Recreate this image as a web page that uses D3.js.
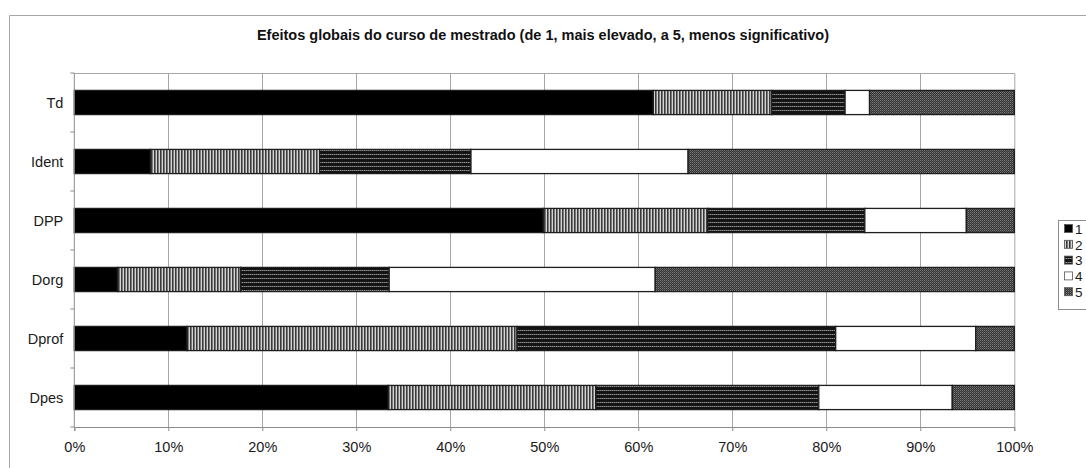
<!DOCTYPE html>
<html>
<head>
<meta charset="utf-8">
<script src="https://cdn.jsdelivr.net/npm/d3@7"></script>
<style>
  html, body { margin: 0; padding: 0; background: #fff; }
  svg { display: block; font-family: "Liberation Sans", Arial, sans-serif; }
</style>
</head>
<body>
<svg id="chart" width="1086" height="468"></svg>
<script>
// Categories (top to bottom) and the share of each rank, in percent
const categories = ["Td", "Ident", "DPP", "Dorg", "Dprof", "Dpes"];
const seriesNames = ["1", "2", "3", "4", "5"];
const rank1 = [61.6, 8.1, 49.9, 4.6, 12.0, 33.4];
const rank2 = [12.6, 18.0, 17.5, 13.1, 35.1, 22.1];
const rank3 = [7.8, 16.1, 16.7, 15.8, 33.9, 23.7];
const rank4 = [2.6, 23.1, 10.8, 28.3, 14.9, 14.2];
const rank5 = [15.4, 34.7, 5.1, 38.2, 4.1, 6.6];
const xTicks = [0, 0.1, 0.2, 0.3, 0.4, 0.5, 0.6, 0.7, 0.8, 0.9, 1];
const title = "Efeitos globais do curso de mestrado (de 1, mais elevado, a 5, menos significativo)";

const svg = d3.select("#chart");
const margin = { left: 74.3, right: 1014.3, top: 73, bottom: 427 };

// Outer chart frame (only top and left edges fall inside the window)
svg.append("path")
  .attr("d", "M9.5,468 V15.5 H1086")
  .attr("fill", "none").attr("stroke", "#a6a6a6").attr("stroke-width", 1);

// Fill patterns for each rank
const defs = svg.append("defs");
const p2 = defs.append("pattern").attr("id", "pat2").attr("patternUnits", "userSpaceOnUse")
  .attr("width", 3).attr("height", 4);
p2.append("rect").attr("width", 3).attr("height", 4).attr("fill", "#d4d4d4");
p2.append("rect").attr("x", 1).attr("width", 1).attr("height", 4).attr("fill", "#3a3a3a");
p2.append("rect").attr("x", 2).attr("width", 1).attr("height", 4).attr("fill", "#7a7a7a");

const p3 = defs.append("pattern").attr("id", "pat3").attr("patternUnits", "userSpaceOnUse")
  .attr("width", 2).attr("height", 4);
p3.append("rect").attr("width", 2).attr("height", 4).attr("fill", "#141414");
p3.append("rect").attr("x", 0).attr("y", 2).attr("width", 1).attr("height", 1).attr("fill", "#909090");
p3.append("rect").attr("x", 1).attr("y", 2).attr("width", 1).attr("height", 1).attr("fill", "#5a5a5a");

const p5 = defs.append("pattern").attr("id", "pat5").attr("patternUnits", "userSpaceOnUse")
  .attr("width", 2).attr("height", 2);
p5.append("rect").attr("width", 2).attr("height", 2).attr("fill", "#333");
p5.append("rect").attr("x", 0).attr("y", 0).attr("width", 1).attr("height", 1).attr("fill", "#7c7c7c");
p5.append("rect").attr("x", 1).attr("y", 1).attr("width", 1).attr("height", 1).attr("fill", "#5a5a5a");

const fills = ["#000", "url(#pat2)", "url(#pat3)", "#fff", "url(#pat5)"];

// Table built from the arrays, normalised to 100%
const table = categories.map((c, i) => {
  const vals = [rank1[i], rank2[i], rank3[i], rank4[i], rank5[i]];
  const tot = d3.sum(vals);
  const row = { cat: c };
  seriesNames.forEach((s, j) => row[s] = vals[j] / tot);
  return row;
});
const stacked = d3.stack().keys(seriesNames)(table);

const x = d3.scaleLinear().domain([0, 1]).range([margin.left, margin.right]);
const y = d3.scaleBand().domain(categories).range([margin.top, margin.bottom])
  .paddingInner(0.59).paddingOuter(0.295);

// Title
svg.append("text")
  .attr("x", 543).attr("y", 40)
  .attr("text-anchor", "middle")
  .attr("font-size", 14.5).attr("font-weight", "bold").attr("fill", "#111")
  .text(title);

// Plot frame (top and right)
svg.append("path")
  .attr("d", `M${margin.left},${margin.top + 0.5} H${margin.right + 0.5} V${margin.bottom}`)
  .attr("fill", "none").attr("stroke", "#a6a6a6");

// Vertical gridlines
svg.append("g").selectAll("line")
  .data(xTicks.slice(1, -1))
  .join("line")
  .attr("x1", d => Math.round(x(d)) + 0.5).attr("x2", d => Math.round(x(d)) + 0.5)
  .attr("y1", margin.top).attr("y2", margin.bottom)
  .attr("stroke", "#a6a6a6");

// Stacked bars
svg.append("g").selectAll("g")
  .data(stacked)
  .join("g")
  .attr("fill", (d, i) => fills[i])
  .selectAll("rect")
  .data(d => d.map(v => ({ v, cat: v.data.cat })))
  .join("rect")
  .attr("x", d => x(d.v[0]))
  .attr("width", d => x(d.v[1]) - x(d.v[0]))
  .attr("y", d => y(d.cat))
  .attr("height", y.bandwidth())
  .attr("stroke", "#1e1e1e")
  .attr("stroke-width", 1.3);

// Bottom axis
const xAxis = d3.axisBottom(x).tickValues(xTicks).tickFormat(d3.format(".0%"))
  .tickSize(4).tickPadding(11);
const gx = svg.append("g").attr("transform", `translate(0,${margin.bottom})`).call(xAxis);
gx.select(".domain").attr("stroke", "#8c8c8c");
gx.selectAll(".tick line").attr("stroke", "#8c8c8c");
gx.selectAll(".tick text").attr("font-size", 14.5).attr("fill", "#1a1a1a")
  .attr("font-family", "Liberation Sans, Arial, sans-serif");

// Left axis: ticks sit at category boundaries, labels at band centres
const gy = svg.append("g").attr("transform", `translate(${margin.left},0)`);
gy.append("line").attr("x1", 0).attr("x2", 0).attr("y1", margin.top).attr("y2", margin.bottom)
  .attr("stroke", "#8c8c8c");
const step = y.step();
const bounds = d3.range(categories.length + 1).map(i => margin.top + i * step);
gy.selectAll("line.tk").data(bounds).join("line").attr("class", "tk")
  .attr("x1", -4).attr("x2", 0)
  .attr("y1", d => d).attr("y2", d => d)
  .attr("stroke", "#8c8c8c");
gy.selectAll("text").data(categories).join("text")
  .attr("x", -11).attr("y", d => y(d) + y.bandwidth() / 2)
  .attr("dy", "0.35em").attr("text-anchor", "end")
  .attr("font-size", 14.5).attr("fill", "#1a1a1a")
  .text(d => d);

// Legend
const lg = svg.append("g");
lg.append("rect").attr("x", 1058.5).attr("y", 220.5).attr("width", 40).attr("height", 89)
  .attr("fill", "#fff").attr("stroke", "#8c8c8c");
seriesNames.forEach((s, i) => {
  const cy = 229 + i * 15.8;
  lg.append("rect").attr("x", 1064.5).attr("y", cy - 4.5).attr("width", 8).attr("height", 8)
    .attr("fill", fills[i]).attr("stroke", "#555").attr("stroke-width", 0.8);
  lg.append("text").attr("x", 1075).attr("y", cy).attr("dy", "0.36em")
    .attr("font-size", 13.5).attr("fill", "#1a1a1a").text(s);
});
</script>
</body>
</html>
